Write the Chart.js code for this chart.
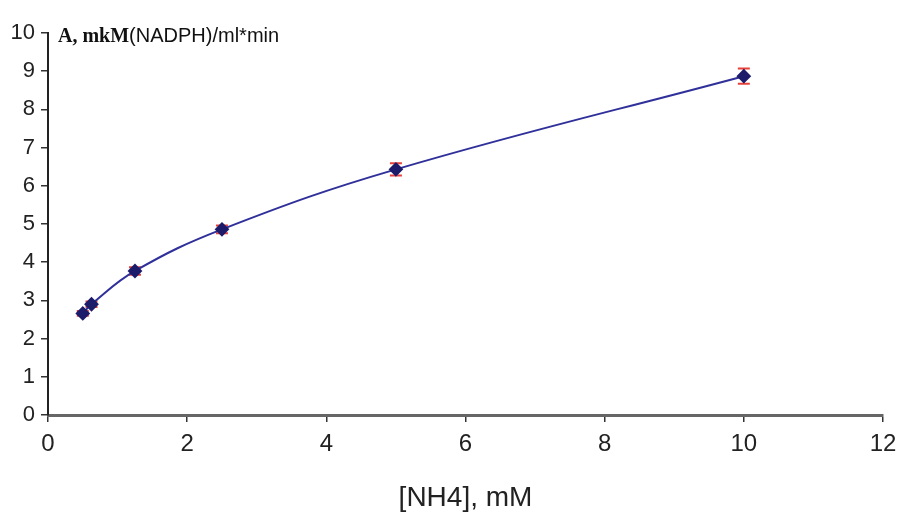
<!DOCTYPE html>
<html>
<head>
<meta charset="utf-8">
<script src="https://cdn.jsdelivr.net/npm/chart.js@4.4.0/dist/chart.umd.min.js"></script>
<style>
  html, body { margin: 0; padding: 0; background: #fff; }
  #wrap { position: relative; width: 912px; height: 515px; overflow: hidden; }
  #box { width: 912px; height: 515px; }
  #yTitle { position: absolute; left: 58px; top: 24px; white-space: nowrap; color: #111; }
  #yTitle .a { font-family: "Liberation Serif", serif; font-weight: bold; font-size: 20px; }
  #yTitle .b { font-family: "Liberation Sans", Arial, sans-serif; font-size: 20px; }
</style>
</head>
<body>
<div id="wrap">
  <div id="box"><canvas id="chartNH4"></canvas></div>
  <div id="yTitle"><span class="a">A, mkM</span><span class="b">(NADPH)/ml*min</span></div>
</div>
<script>
const concentration = [0.5, 0.625, 1.25, 2.5, 5, 10];
const activity = [2.66, 2.9, 3.77, 4.86, 6.43, 8.87];
const activityErr = [0.06, 0.07, 0.1, 0.1, 0.16, 0.2];
const xTitle = '[NH4], mM';

const chartNH4 = document.getElementById('chartNH4');

// red error bars, drawn under the markers
const errorBars = {
    id: 'errorBars',
    beforeDatasetsDraw(chart) {
        const ctx = chart.ctx;
        const xs = chart.scales.x;
        const ys = chart.scales.y;
        ctx.save();
        ctx.strokeStyle = '#e8413a';
        ctx.lineWidth = 2;
        for (let i = 0; i < concentration.length; i++) {
            let px = xs.getPixelForValue(concentration[i]);
            let top = ys.getPixelForValue(activity[i] + activityErr[i]);
            let bot = ys.getPixelForValue(activity[i] - activityErr[i]);
            ctx.beginPath();
            ctx.moveTo(px, top); ctx.lineTo(px, bot);
            ctx.moveTo(px - 6, top); ctx.lineTo(px + 6, top);
            ctx.moveTo(px - 6, bot); ctx.lineTo(px + 6, bot);
            ctx.stroke();
        }
        ctx.restore();
    }
};

let points = concentration.map((c, i) => ({ x: c, y: activity[i] }));

let chart = new Chart(chartNH4, {
    type: 'line',
    data: {
        datasets: [
            {
                data: points,
                borderColor: '#30309a',
                borderWidth: 2,
                tension: 0.4,
                pointStyle: 'rectRot',
                pointRadius: 6,
                pointBackgroundColor: '#1c1c6b',
                pointBorderColor: '#1c1c6b',
                fill: false
            }
        ]
    },
    options: {
        responsive: true,
        maintainAspectRatio: false,
        animation: false,
        layout: { padding: { top: 33, left: 0, right: 29, bottom: 0 } },
        plugins: {
            legend: { display: false },
            tooltip: { enabled: false }
        },
        scales: {
            x: {
                type: 'linear',
                min: 0,
                max: 12,
                afterFit: (s) => { s.height = 100; },
                ticks: {
                    stepSize: 2,
                    color: '#222',
                    padding: 8,
                    font: { family: 'Liberation Sans', size: 24 }
                },
                grid: { drawOnChartArea: false, tickLength: 7, color: '#333', lineWidth: 1.5 },
                border: { color: '#666', width: 3 },
                title: {
                    display: true,
                    text: xTitle,
                    color: '#222',
                    padding: { top: 0, bottom: 0 },
                    font: { family: 'Liberation Sans', size: 28 }
                }
            },
            y: {
                min: 0,
                max: 10,
                afterFit: (s) => { s.width = 48; },
                ticks: {
                    stepSize: 1,
                    color: '#222',
                    padding: 6,
                    font: { family: 'Liberation Sans', size: 22 }
                },
                grid: { drawOnChartArea: false, tickLength: 7, color: '#333', lineWidth: 1.5 },
                border: { color: '#222', width: 2 }
            }
        }
    },
    plugins: [errorBars]
});
</script>
</body>
</html>
